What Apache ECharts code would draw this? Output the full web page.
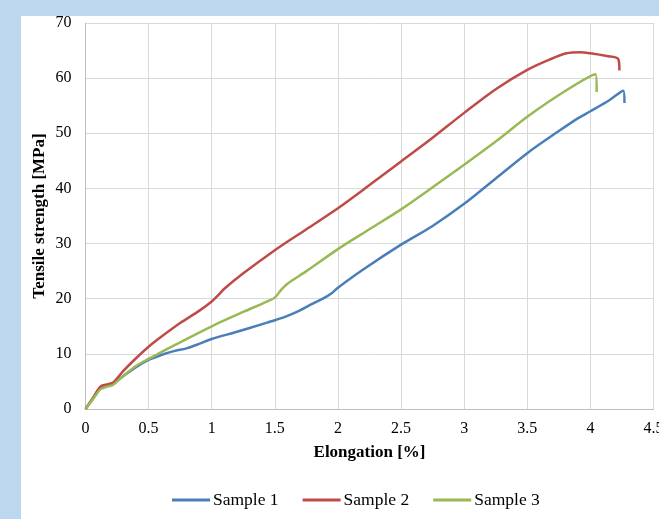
<!DOCTYPE html>
<html>
<head>
<meta charset="utf-8">
<style>
  html, body { margin: 0; padding: 0; background: #bdd7ee; }
  #panel { position: absolute; left: 21px; top: 16px; width: 638px; height: 503px; background: #fff; }
  #chart { position: absolute; left: 0; top: 0; width: 659px; height: 519px; }
</style>
</head>
<body>
<div id="panel"></div>
<div id="chart"></div>
<script src="https://cdn.jsdelivr.net/npm/echarts@6/dist/echarts.min.js"></script>
<script>
// Elongation [%] and tensile strength [MPa]
var elong1 = [0, 0.06, 0.12, 0.18, 0.22, 0.3, 0.4, 0.5, 0.6, 0.7, 0.8, 0.9, 1.0, 1.2, 1.4, 1.5, 1.6, 1.7, 1.8, 1.88, 1.95, 2.0, 2.2, 2.5, 2.75, 3.0, 3.25, 3.5, 3.75, 3.9, 4.0, 4.15, 4.26, 4.27];
var stress1 = [0, 2.0, 4.0, 4.4, 4.6, 6.0, 7.6, 8.9, 9.8, 10.5, 11.0, 11.8, 12.7, 14.0, 15.4, 16.1, 16.9, 17.9, 19.1, 20.0, 21.0, 22.0, 25.3, 29.8, 33.2, 37.2, 41.8, 46.4, 50.4, 52.7, 54.0, 56.0, 57.7, 55.5];

var elong2 = [0, 0.06, 0.12, 0.18, 0.22, 0.3, 0.4, 0.5, 0.6, 0.75, 0.9, 1.0, 1.05, 1.1, 1.25, 1.5, 1.75, 2.0, 2.25, 2.5, 2.75, 3.0, 3.25, 3.5, 3.68, 3.81, 3.92, 4.0, 4.13, 4.22, 4.23];
var stress2 = [0, 2.0, 4.1, 4.5, 4.8, 6.9, 9.2, 11.3, 13.1, 15.6, 17.8, 19.5, 20.6, 21.8, 24.6, 28.8, 32.6, 36.4, 40.6, 44.9, 49.2, 53.7, 58.0, 61.5, 63.4, 64.5, 64.7, 64.5, 64.0, 63.5, 61.4];

var elong3 = [0, 0.06, 0.12, 0.18, 0.22, 0.3, 0.4, 0.5, 0.6, 0.75, 1.0, 1.25, 1.45, 1.5, 1.55, 1.6, 1.75, 2.0, 2.25, 2.5, 2.75, 3.0, 3.25, 3.5, 3.81, 4.04, 4.05];
var stress3 = [0, 1.8, 3.6, 4.1, 4.4, 6.0, 7.8, 9.1, 10.3, 12.1, 15.0, 17.6, 19.6, 20.2, 21.6, 22.7, 25.0, 29.0, 32.6, 36.2, 40.2, 44.3, 48.5, 53.0, 57.8, 60.7, 57.5];

var seriesNames = ['Sample 1', 'Sample 2', 'Sample 3'];
var seriesColors = ['#4a7ebb', '#be4b48', '#98b954'];

function zip(xs, ys) {
    return xs.map(function (x, i) { return [x, ys[i]]; });
}
var curves = [zip(elong1, stress1), zip(elong2, stress2), zip(elong3, stress3)];

var chart = echarts.init(document.getElementById('chart'));
var font = '"Liberation Serif", "Times New Roman", serif';

var option = {
    animation: false,
    backgroundColor: 'transparent',
    textStyle: { fontFamily: font, color: '#000' },
    grid: { left: 85.5, right: 5.5, top: 23, bottom: 110, outerBoundsMode: 'none', containLabel: false },
    legend: {
        left: 172,
        top: 491,
        padding: 0,
        icon: 'rect',
        itemWidth: 38,
        itemHeight: 3,
        itemGap: 24,
        textStyle: { fontFamily: font, fontSize: 17.5, color: '#000', padding: [0, 0, 0, -2] },
        data: seriesNames
    },
    xAxis: {
        type: 'value',
        min: 0,
        max: 4.5,
        interval: 0.5,
        name: 'Elongation [%]',
        nameLocation: 'middle',
        nameGap: 35,
        nameMoveOverlap: false,
        nameTextStyle: { fontFamily: font, fontSize: 17, fontWeight: 'bold', color: '#000' },
        axisLine: { show: true, lineStyle: { color: '#bfbfbf', width: 1 } },
        axisTick: { show: false },
        axisLabel: { fontFamily: font, fontSize: 16, color: '#000', margin: 12 },
        splitLine: { show: true, lineStyle: { color: '#d9d9d9', width: 1 } }
    },
    yAxis: {
        type: 'value',
        min: 0,
        max: 70,
        interval: 10,
        name: 'Tensile strength [MPa]',
        nameLocation: 'middle',
        nameRotate: 90,
        nameGap: 37,
        nameMoveOverlap: false,
        nameTextStyle: { fontFamily: font, fontSize: 17, fontWeight: 'bold', color: '#000' },
        axisLine: { show: true, lineStyle: { color: '#bfbfbf', width: 1 } },
        axisTick: { show: false },
        axisLabel: { fontFamily: font, fontSize: 16, color: '#000', margin: 14 },
        splitLine: { show: true, lineStyle: { color: '#d9d9d9', width: 1 } }
    },
    series: curves.map(function (d, i) {
        return {
            name: seriesNames[i],
            type: 'line',
            data: d,
            symbol: 'none',
            smooth: 0.3,
            color: seriesColors[i],
            lineStyle: { color: seriesColors[i], width: 2.5 }
        };
    })
};

chart.setOption(option);
</script>
</body>
</html>
